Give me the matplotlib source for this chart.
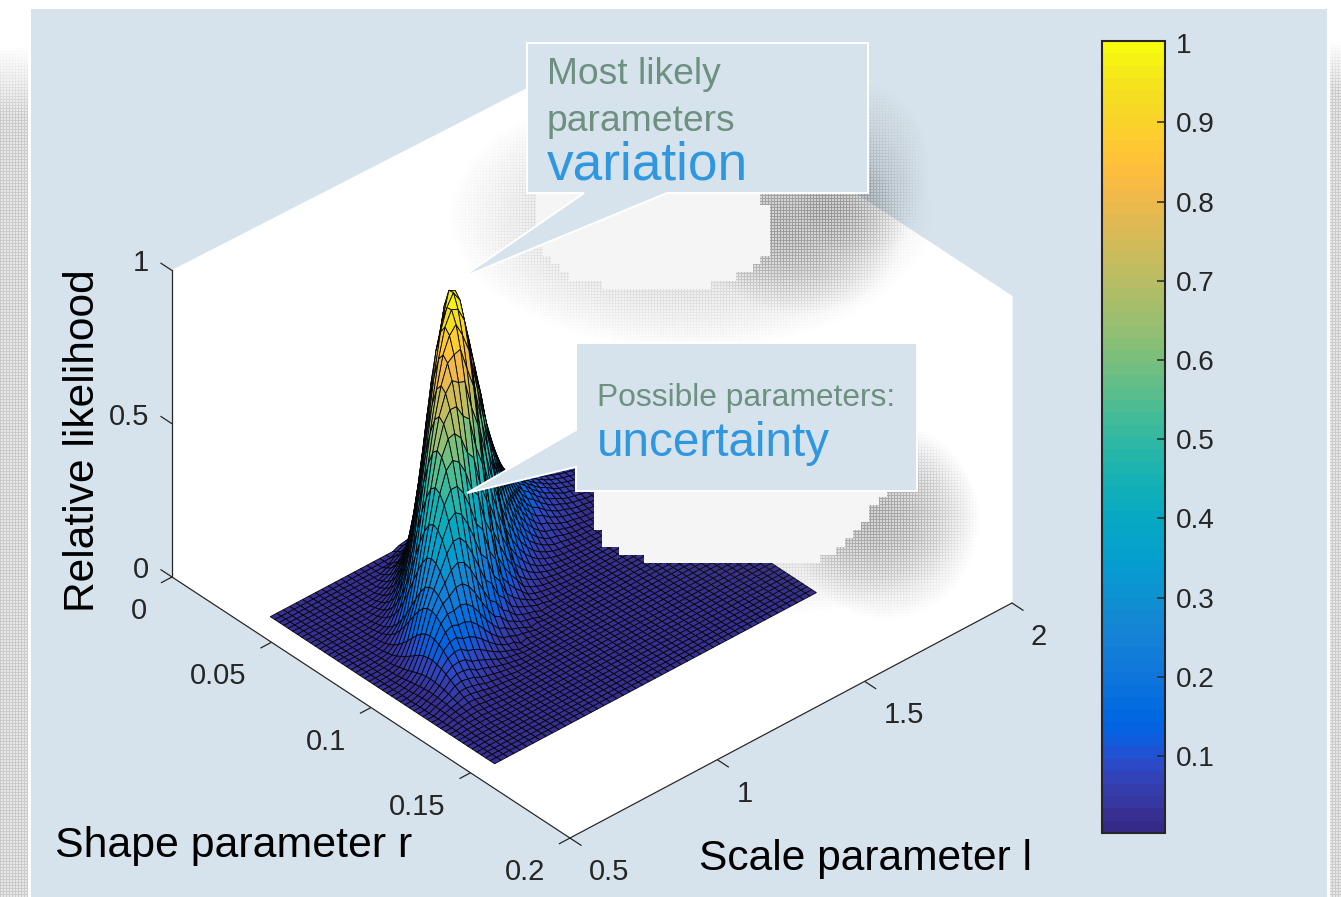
import numpy as np
import matplotlib
matplotlib.use('Agg')
import matplotlib.pyplot as plt
from matplotlib.colors import ListedColormap, Normalize
from matplotlib.cm import ScalarMappable
from matplotlib.patches import Polygon, Rectangle
from mpl_toolkits.mplot3d import proj3d

plt.rcParams['font.family'] = ['Liberation Sans', 'DejaVu Sans']

# ---------- data ----------
r_ticks = [0, 0.05, 0.1, 0.15, 0.2]
r_labels = ['0', '0.05', '0.1', '0.15', '0.2']
l_ticks = [0.5, 1, 1.5, 2]
l_labels = ['0.5', '1', '1.5', '2']
z_ticks = [0, 0.5, 1]
z_labels = ['0', '0.5', '1']
cbar_ticks = [0.1, 0.2, 0.3, 0.4, 0.5, 0.6, 0.7, 0.8, 0.9, 1]
cbar_labels = ['0.1', '0.2', '0.3', '0.4', '0.5', '0.6', '0.7', '0.8', '0.9', '1']
r_grid_min, r_grid_step, n_r = 0.0389, 0.002254, 51
l_grid_min, l_grid_step, n_l = 0.571, 0.02184, 51

# estimated relative likelihood (thousandths); {l row: (first r column, values)}, everything else ~0
likelihood_rows = {
 2: (23, [1,1,2,3,4,5,6,8,9,10,10,10,9,8,7,6,5,4,3,2,1,1,1]),
 3: (20, [1,1,2,3,4,6,9,12,14,17,19,20,20,19,18,16,13,11,9,6,5,3,2,1,1,1]),
 4: (18, [1,2,3,4,7,11,15,20,26,31,36,39,40,39,37,33,29,24,19,15,11,8,5,4,2,1,1]),
 5: (16, [1,2,4,7,11,17,26,35,46,57,68,75,79,80,76,71,63,53,44,34,26,19,13,9,6,4,2,1]),
 6: (14, [1,3,5,9,15,23,35,49,66,84,102,117,126,130,127,120,109,94,79,63,49,36,26,18,12,7,4,3,1,1]),
 7: (13, [3,5,10,17,27,41,61,84,110,136,161,179,189,189,182,168,149,127,104,82,62,45,31,21,13,8,5,3]),
 8: (12, [4,7,12,21,34,52,77,106,139,172,203,226,238,239,229,212,188,160,131,103,78,57,39,26,17,11,6,4]),
 9: (10, [3,6,12,21,35,55,82,117,158,201,243,278,302,310,304,286,259,225,188,151,116,86,61,42,28,17,11,6,3,2]),
 10: (9, [4,8,15,27,45,71,106,151,204,260,314,359,389,400,392,369,334,290,243,195,150,111,79,54,36,22,14,8,4,2]),
 11: (8, [5,10,19,34,56,88,133,189,254,324,392,448,486,500,490,462,418,363,304,244,188,139,99,68,44,28,17,10,6,3]),
 12: (7, [6,12,23,40,67,106,160,227,305,389,470,538,584,600,588,554,501,436,364,292,225,167,119,81,53,34,20,12,7,4]),
 13: (6, [7,14,26,46,77,122,184,261,351,448,541,619,671,690,676,637,576,501,419,336,259,192,137,93,61,39,23,14,8,4]),
 14: (5, [8,15,29,52,86,136,205,291,392,500,604,691,749,770,755,711,643,559,467,375,289,214,152,104,68,43,26,15,8,5]),
 15: (4, [8,17,32,57,95,150,226,321,433,552,666,762,827,850,833,785,710,617,516,414,319,236,168,115,76,48,29,17,9,5]),
 16: (3, [9,18,35,62,103,163,245,348,468,597,721,825,895,920,902,849,768,668,558,448,345,256,182,124,82,52,31,18,10,6]),
 17: (3, [15,27,49,84,138,211,309,428,561,696,820,913,963,965,927,856,760,647,530,417,315,229,159,107,69,43,25,15]),
 18: (2, [15,28,51,87,142,218,319,441,578,718,845,941,998,1000,956,882,783,667,546,430,325,236,164,110,71,44,26,15]),
 19: (1, [10,20,37,66,110,174,262,372,501,639,772,884,958,985,965,909,822,715,598,480,369,274,195,133,88,55,33,20,11,6]),
 20: (0, [9,19,35,62,104,165,247,352,473,604,729,834,905,930,911,858,777,675,565,453,349,259,184,126,83,52,32,19,10,6]),
 21: (0, [13,24,43,74,121,185,271,375,491,610,718,800,844,846,813,750,666,567,464,366,276,201,139,94,60,37,22,13]),
 22: (0, [15,29,51,86,135,203,289,389,496,600,686,744,765,750,706,639,555,464,373,287,213,151,103,68,43,26,15,8,5]),
 23: (0, [19,35,59,97,148,217,300,393,488,575,640,675,677,650,600,532,454,371,292,221,160,112,75,48,30,18,10]),
 24: (0, [31,52,85,131,191,265,347,431,507,565,596,597,574,529,470,400,328,258,195,142,98,66,43,26,16,9]),
 25: (0, [35,59,93,140,198,267,341,412,471,511,525,514,485,438,381,319,256,197,146,104,71,47,29,18,10,6,3]),
 26: (0, [40,65,99,145,201,263,327,384,428,452,453,435,401,356,303,248,196,148,107,75,50,32,20,12,7]),
 27: (0, [44,69,104,147,199,253,306,350,379,390,382,360,326,283,237,190,146,108,77,53,35,22,13,8,4,2]),
 28: (0, [48,73,107,148,194,241,283,315,333,333,320,295,262,223,183,144,109,79,55,37,24,15,9,5]),
 29: (0, [50,76,108,145,185,223,256,277,285,279,263,238,207,173,139,107,79,56,38,25,16,10,6,3,2]),
 30: (0, [53,78,108,142,176,207,231,243,244,234,216,192,163,134,105,80,58,40,27,17,11,6,4]),
 31: (0, [56,79,107,136,165,188,204,210,206,194,175,152,127,102,79,58,42,28,19,12,7,4,2,1]),
 32: (0, [57,79,104,129,152,169,179,179,172,159,141,120,98,77,58,42,30,20,13,8,5,3]),
 33: (0, [59,79,101,122,139,151,155,152,143,129,113,94,75,58,43,31,21,14,9,5,3,2,1]),
 34: (0, [51,69,88,106,121,131,135,132,125,113,98,82,66,51,38,27,18,12,8,5,3,1,1]),
 35: (0, [51,66,83,97,108,114,114,110,101,90,77,63,49,37,27,19,13,8,5,3,2]),
 36: (0, [51,65,78,90,97,100,98,92,84,73,61,49,38,28,20,14,9,6,3,2,1,1]),
 37: (0, [49,61,72,80,84,85,81,75,67,57,46,37,28,20,14,9,6,4,2,1]),
 38: (0, [42,52,61,68,71,72,69,64,56,48,39,31,23,17,12,8,5,3,2,1]),
 39: (0, [39,47,54,58,60,59,55,50,44,36,29,22,17,12,8,5,3,2,1]),
 40: (0, [36,42,47,50,50,48,44,39,33,27,22,16,12,8,5,4,2,1]),
 41: (0, [30,35,40,42,42,40,37,33,28,23,18,14,10,7,5,3,2,1]),
 42: (0, [27,31,34,35,34,32,29,25,21,17,13,10,7,5,3,2,1]),
 43: (0, [23,26,28,29,28,27,24,21,18,14,11,8,6,4,3,2,1]),
 44: (0, [20,23,24,24,23,21,19,16,13,10,8,6,4,3,2,1]),
 45: (0, [16,18,19,19,18,17,15,13,10,8,6,4,3,2,1,1]),
 46: (0, [13,15,15,15,14,13,11,9,7,6,4,3,2,1]),
 47: (0, [11,12,12,12,11,10,9,7,6,4,3,2,2,1]),
 48: (0, [8,9,9,9,8,7,6,5,4,3,2,1,1]),
 49: (0, [7,7,7,7,6,5,5,4,3,2,2,1,1]),
 50: (0, [5,5,5,5,4,4,3,2,2,1,1]),
}

parula = [
 (0.2081,0.1663,0.5292),(0.2116,0.1898,0.5777),(0.2123,0.2138,0.6270),(0.2081,0.2386,0.6771),
 (0.1959,0.2645,0.7279),(0.1707,0.2919,0.7792),(0.1253,0.3242,0.8303),(0.0591,0.3598,0.8683),
 (0.0117,0.3875,0.8820),(0.0060,0.4086,0.8828),(0.0165,0.4266,0.8786),(0.0329,0.4430,0.8720),
 (0.0498,0.4586,0.8641),(0.0629,0.4737,0.8554),(0.0723,0.4887,0.8467),(0.0779,0.5040,0.8384),
 (0.0793,0.5200,0.8312),(0.0749,0.5375,0.8263),(0.0641,0.5570,0.8240),(0.0488,0.5772,0.8228),
 (0.0343,0.5966,0.8199),(0.0265,0.6137,0.8135),(0.0239,0.6287,0.8038),(0.0231,0.6418,0.7913),
 (0.0228,0.6535,0.7768),(0.0267,0.6642,0.7607),(0.0384,0.6743,0.7436),(0.0590,0.6838,0.7254),
 (0.0843,0.6928,0.7062),(0.1133,0.7015,0.6859),(0.1453,0.7098,0.6646),(0.1801,0.7177,0.6424),
 (0.2178,0.7250,0.6193),(0.2586,0.7317,0.5954),(0.3022,0.7376,0.5712),(0.3482,0.7424,0.5473),
 (0.3953,0.7459,0.5244),(0.4420,0.7481,0.5033),(0.4871,0.7491,0.4840),(0.5300,0.7491,0.4661),
 (0.5709,0.7485,0.4494),(0.6099,0.7473,0.4337),(0.6473,0.7456,0.4188),(0.6834,0.7435,0.4044),
 (0.7184,0.7411,0.3905),(0.7525,0.7384,0.3768),(0.7858,0.7356,0.3633),(0.8185,0.7327,0.3498),
 (0.8507,0.7299,0.3360),(0.8824,0.7274,0.3217),(0.9139,0.7258,0.3063),(0.9450,0.7261,0.2886),
 (0.9739,0.7314,0.2666),(0.9938,0.7455,0.2403),(0.9990,0.7653,0.2164),(0.9955,0.7861,0.1967),
 (0.9880,0.8066,0.1794),(0.9789,0.8271,0.1633),(0.9697,0.8481,0.1475),(0.9626,0.8705,0.1309),
 (0.9589,0.8949,0.1132),(0.9598,0.9218,0.0948),(0.9661,0.9514,0.0755),(0.9763,0.9831,0.0538),
]

# ---------- layout ----------
W, H = 1341, 897
BG = '#d7e3ec'
INK = '#262626'
cmap = ListedColormap(parula)
norm = Normalize(vmin=0.003, vmax=1.0026)
surface_norm = Normalize(vmin=-0.016, vmax=1.0026)

fig = plt.figure(figsize=(W / 100, H / 100), dpi=100, facecolor='white')

def px_axes(x0, y0, x1, y1, **kw):
    return fig.add_axes([x0 / W, 1 - y1 / H, (x1 - x0) / W, (y1 - y0) / H], **kw)

bg = px_axes(0, 0, W, H, zorder=0)
bg.set_xlim(0, W); bg.set_ylim(H, 0); bg.axis('off')
bg.add_patch(Rectangle((31, 9), 1296, H, color=BG, lw=0))

# ---------- surface ----------
Z = np.zeros((n_l, n_r))
for row, (first, vals) in likelihood_rows.items():
    Z[row, first:first + len(vals)] = np.array(vals) / 1000.0
rr = r_grid_min + r_grid_step * np.arange(n_r)
ll = l_grid_min + l_grid_step * np.arange(n_l)
R, L = np.meshgrid(rr, ll)

ax = fig.add_axes([0.1, 0.1, 0.6, 0.6 * W / H], projection='3d', proj_type='ortho', zorder=1)
ax.set_facecolor('none')
ax.set_xlim(0, 0.2, view_margin=0)
ax.set_ylim(0.5, 2, view_margin=0)
ax.set_zlim(0, 1, view_margin=0)
ax.view_init(elev=36.2, azim=-42.0)
ax.set_box_aspect((595, 595, 380))
ax.grid(False)
ax.plot_surface(R, L, Z, rstride=1, cstride=1, cmap=cmap, norm=surface_norm, shade=False,
                edgecolor='#05050a', linewidth=0.62, antialiased=True)

ax.set_xticks(r_ticks); ax.set_xticklabels([''] * len(r_ticks))
ax.set_yticks(l_ticks); ax.set_yticklabels([''] * len(l_ticks))
ax.set_zticks(z_ticks); ax.set_zticklabels([''] * len(z_ticks))
for axis in (ax.xaxis, ax.yaxis, ax.zaxis):
    axis.set_pane_color((1, 1, 1, 1))
    axis.pane.set_edgecolor('white')
    axis.line.set_color(INK)
    axis.line.set_linewidth(0.9)
    axis._axinfo['tick']['inward_factor'] = 0.0
    axis._axinfo['tick']['outward_factor'] = 0.0
ax.zaxis.set_ticks_position('lower')

# outward tick marks, MATLAB style: each along the neighbouring box edge
TICK_R, TICK_L = 0.0058, 0.0375
tick_style = dict(color=INK, lw=0.9, solid_capstyle='butt')
for v in r_ticks:
    ax.plot([v, v], [0.5, 0.5 - TICK_L], [0, 0], **tick_style)
for v in l_ticks:
    ax.plot([0.2, 0.2 + TICK_R], [v, v], [0, 0], **tick_style)
for v in z_ticks:
    ax.plot([0, -TICK_R], [0.5, 0.5], [v, v], **tick_style)

def project(x, y, z):
    xs, ys, _ = proj3d.proj_transform(x, y, z, ax.get_proj())
    return ax.transData.transform((xs, ys))

# fit the orthographic box onto the reference axes corners
target_a = np.array([172.0, H - 577.0])   # r=0,   l=0.5, z=0
target_b = np.array([570.0, H - 838.0])   # r=0.2, l=0.5, z=0
for _ in range(3):
    fig.canvas.draw()
    a, b = project(0, 0.5, 0), project(0.2, 0.5, 0)
    s = np.linalg.norm(target_b - target_a) / np.linalg.norm(b - a)
    p = ax.get_position()
    ax.set_position([p.x0, p.y0, p.width * s, p.height * s])
    fig.canvas.draw()
    a = project(0, 0.5, 0)
    p = ax.get_position()
    ax.set_position([p.x0 + (target_a[0] - a[0]) / W, p.y0 + (target_a[1] - a[1]) / H, p.width, p.height])
fig.canvas.draw()

# ---------- overlay: shadows, callouts, text ----------
ov = px_axes(0, 0, W, H, zorder=2)
ov.set_xlim(0, W); ov.set_ylim(H, 0); ov.axis('off'); ov.patch.set_alpha(0)

yy, xx = np.mgrid[0:H, 0:W]
pat = np.where((xx % 3 == 0) | (yy % 3 == 0), 1.0, 0.45)
def halo(cx, cy, rx, ry, a):
    return a * np.clip(1 - ((xx - cx) / rx) ** 2 - ((yy - cy) / ry) ** 2, 0, 1) ** 1.1
alpha = (halo(690, 215, 245, 135, 0.3) + halo(800, 225, 105, 90, 0.3) + halo(860, 170, 70, 90, 0.18)
         + halo(770, 510, 210, 106, 0.25) + halo(885, 520, 95, 100, 0.32))
alpha[(xx < 640) & (yy < 270 - 0.517 * (xx - 172))] = 0
strip = (np.clip((yy - 45) / 70, 0, 1) * (xx < 28) + np.clip((yy - 40) / 50, 0, 1) * (xx >= 1330)) * 0.28
alpha = (alpha + strip) * pat
rgba = np.zeros((H, W, 4))
rgba[..., :3] = 0.28
rgba[..., 3] = np.clip(alpha, 0, 1)
ov.imshow(rgba, extent=(0, W, H, 0), aspect='auto', interpolation='nearest', zorder=1)
ov.set_xlim(0, W); ov.set_ylim(H, 0)

# the wall's back corner stays behind the callout, as in the reference
ov.add_patch(Polygon([(172, 270), (527, 88), (527, 30), (700, 30), (700, 43), (527, 43), (527, 60)],
                     closed=True, fc=BG, ec='none', zorder=2))

blob1 = [(536, 193), (536, 247), (543, 247), (543, 256), (551, 256), (551, 264), (560, 264), (560, 272),
         (569, 272), (569, 281), (602, 281), (602, 289), (711, 289), (711, 281), (736, 281), (736, 272),
         (753, 272), (753, 264), (760, 264), (760, 256), (770, 256), (770, 205), (760, 205), (760, 193)]
blob2 = [(594, 491), (594, 530), (602, 530), (602, 547), (619, 547), (619, 555), (644, 555), (644, 563),
         (820, 563), (820, 555), (836, 555), (836, 547), (845, 547), (845, 538), (853, 538), (853, 530),
         (861, 530), (861, 522), (869, 522), (869, 505), (879, 505), (879, 497), (887, 497), (887, 491)]
for blob in (blob1, blob2):
    ov.add_patch(Polygon(blob, closed=True, fc='#f5f5f5', ec='none', zorder=2))

call1 = [(527, 43), (868, 43), (868, 193), (667, 193), (461, 278), (584, 193), (527, 193)]
call2 = [(576, 343), (917, 343), (917, 491), (576, 491), (576, 467), (467, 493), (576, 430)]
for call in (call1, call2):
    ov.add_patch(Polygon(call, closed=True, fc=BG, ec='white', lw=1.4, joinstyle='miter', zorder=3))

GREEN, BLUE = '#6d9080', '#2f97e0'
ov.text(547, 84, 'Most likely', color=GREEN, fontsize=26.8, zorder=4, va='baseline')
ov.text(547, 131, 'parameters', color=GREEN, fontsize=26.8, zorder=4, va='baseline')
ov.text(547, 179, 'variation', color=BLUE, fontsize=38.3, zorder=4, va='baseline')
ov.text(597, 406, 'Possible parameters:', color=GREEN, fontsize=22.85, zorder=4, va='baseline')
ov.text(597, 456, 'uncertainty', color=BLUE, fontsize=34.3, zorder=4, va='baseline')

def to_px(d):
    return d[0], H - d[1]

TICK_FS = 21
for v, lab in zip(r_ticks, r_labels):
    x, y = to_px(project(v, 0.5, 0))
    ov.text(x - 25, y + 34, lab, ha='right', va='center', fontsize=TICK_FS, color=INK, zorder=4)
for v, lab in zip(l_ticks, l_labels):
    x, y = to_px(project(0.2, v, 0))
    ov.text(x + 19, y + 34, lab, ha='left', va='center', fontsize=TICK_FS, color=INK, zorder=4)
for v, lab in zip(z_ticks, z_labels):
    x, y = to_px(project(0, 0.5, v))
    ov.text(x - 23, y - 7, lab, ha='right', va='center', fontsize=TICK_FS, color=INK, zorder=4)

ov.text(83, 441, 'Relative likelihood', rotation=90, ha='center', va='center', fontsize=30.6, color='black', zorder=4)
ov.text(55, 857, 'Shape parameter r', ha='left', va='baseline', fontsize=30.8, color='black', zorder=4)
ov.text(699, 870, 'Scale parameter l', ha='left', va='baseline', fontsize=30.6, color='black', zorder=4)

# ---------- colour bar ----------
cax = px_axes(1102, 41, 1165, 833, zorder=3)
cb = fig.colorbar(ScalarMappable(norm=norm, cmap=cmap), cax=cax, ticks=cbar_ticks)
cb.set_ticklabels(cbar_labels)
cb.ax.tick_params(direction='in', length=6, width=1.1, color=INK, labelsize=20.2, labelcolor=INK, pad=8, right=True)
cb.ax.yaxis.get_major_ticks()[-1].tick2line.set_visible(False)
cb.outline.set_edgecolor(INK)
cb.outline.set_linewidth(1.5)

fig.savefig('out.png', dpi=100, facecolor='white')
